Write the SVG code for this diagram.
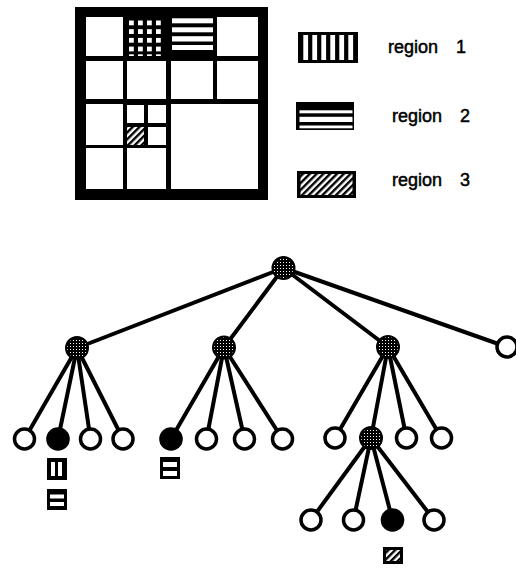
<svg xmlns="http://www.w3.org/2000/svg" width="516" height="571" viewBox="0 0 516 571">
  <defs>
    <!-- halftone fill for internal tree nodes -->
    <pattern id="stipple" patternUnits="userSpaceOnUse" width="3" height="3">
      <rect width="3" height="3" fill="#000"/>
      <rect x="1" y="1" width="1" height="1" fill="#fff"/>
    </pattern>
    <!-- diagonal hatch for region 3 -->
    <pattern id="hatch" patternUnits="userSpaceOnUse" width="4.8" height="4.8" patternTransform="rotate(45)">
      <rect width="4.8" height="4.8" fill="#fff"/>
      <rect width="2.4" height="4.8" fill="#000"/>
    </pattern>
  </defs>
  <style>
    .cell{fill:#fff}
    .edge{stroke:#000;stroke-width:4;stroke-linecap:round;fill:none}
    .open{fill:#fff;stroke:#000;stroke-width:3.5}
    .full{fill:#000}
    .shade{fill:url(#stipple);stroke:#000;stroke-width:2}
    .lbl{font-family:"Liberation Sans",Arial,sans-serif;font-size:18px;word-spacing:13px;fill:#000;stroke:#000;stroke-width:0.5}
  </style>

  <!-- quadtree image partition -->
  <g id="grid">
    <rect x="75" y="7" width="193" height="193" fill="#000"/>
    <!-- row 1 -->
    <rect class="cell" x="86" y="17" width="37" height="39"/>
    <g id="cell-region1" fill="#fff">
      <rect x="129" y="20.5" width="4.8" height="4.8"/><rect x="138" y="20.5" width="4.8" height="4.8"/><rect x="147" y="20.5" width="4.8" height="4.8"/><rect x="156" y="20.5" width="4.8" height="4.8"/>
      <rect x="129" y="29.2" width="4.8" height="4.8"/><rect x="138" y="29.2" width="4.8" height="4.8"/><rect x="147" y="29.2" width="4.8" height="4.8"/><rect x="156" y="29.2" width="4.8" height="4.8"/>
      <rect x="129" y="37.9" width="4.8" height="4.8"/><rect x="138" y="37.9" width="4.8" height="4.8"/><rect x="147" y="37.9" width="4.8" height="4.8"/><rect x="156" y="37.9" width="4.8" height="4.8"/>
      <rect x="129" y="46.6" width="4.8" height="4.8"/><rect x="138" y="46.6" width="4.8" height="4.8"/><rect x="147" y="46.6" width="4.8" height="4.8"/><rect x="156" y="46.6" width="4.8" height="4.8"/>
      <rect x="129" y="54.3" width="4.8" height="1.7"/><rect x="138" y="54.3" width="4.8" height="1.7"/><rect x="147" y="54.3" width="4.8" height="1.7"/><rect x="156" y="54.3" width="4.8" height="1.7"/>
    </g>
    <g id="cell-region2" fill="#fff">
      <rect x="172" y="18.3" width="41" height="5"/>
      <rect x="172" y="27.3" width="41" height="5"/>
      <rect x="172" y="36.2" width="41" height="5.3"/>
      <rect x="172" y="45" width="41" height="5"/>
    </g>
    <rect class="cell" x="217" y="17" width="41" height="39"/>
    <!-- row 2 -->
    <rect class="cell" x="86" y="61" width="37" height="38"/>
    <rect class="cell" x="127" y="61" width="39" height="38"/>
    <rect class="cell" x="171" y="61" width="42" height="38"/>
    <rect class="cell" x="217" y="61" width="41" height="38"/>
    <!-- rows 3 and 4 -->
    <rect class="cell" x="86" y="104" width="37" height="41"/>
    <rect class="cell" x="127" y="105" width="17" height="18"/>
    <rect class="cell" x="148" y="105" width="18" height="18"/>
    <rect x="127" y="127" width="17" height="18" fill="url(#hatch)"/>
    <rect class="cell" x="148" y="127" width="18" height="18"/>
    <rect class="cell" x="171" y="104" width="87" height="85"/>
    <rect class="cell" x="86" y="148" width="37" height="41"/>
    <rect class="cell" x="127" y="148" width="39" height="41"/>
  </g>

  <!-- legend -->
  <g id="legend-1">
    <rect x="298" y="32" width="60" height="31" fill="#000"/>
    <g fill="#fff">
      <rect x="303.3" y="35" width="4.8" height="25"/>
      <rect x="312.3" y="35" width="4.8" height="25"/>
      <rect x="321.3" y="35" width="4.8" height="25"/>
      <rect x="330.3" y="35" width="4.8" height="25"/>
      <rect x="339.3" y="35" width="4.8" height="25"/>
      <rect x="348.3" y="35" width="4.8" height="25"/>
    </g>
    <text class="lbl" x="388" y="53.3">region 1</text>
  </g>
  <g id="legend-2">
    <rect x="296" y="102" width="58" height="28" fill="#000"/>
    <g fill="#fff">
      <rect x="299.5" y="110.3" width="53" height="3"/>
      <rect x="299.5" y="116.8" width="53" height="5.2"/>
      <rect x="299.5" y="125.5" width="53" height="2.8"/>
    </g>
    <text class="lbl" x="392" y="121.5">region 2</text>
  </g>
  <g id="legend-3">
    <rect x="297" y="171" width="59" height="27" fill="#000"/>
    <rect x="300.5" y="174" width="52" height="21" fill="url(#hatch)"/>
    <text class="lbl" x="392" y="186">region 3</text>
  </g>

  <!-- tree connectors -->
  <g id="edges" class="edge">
    <line x1="283.5" y1="268" x2="77" y2="348"/>
    <line x1="283.5" y1="268" x2="224" y2="347.5"/>
    <line x1="283.5" y1="268" x2="388" y2="347"/>
    <line x1="283.5" y1="268" x2="507" y2="347"/>
    <line x1="77" y1="348" x2="24.5" y2="439"/>
    <line x1="77" y1="348" x2="58" y2="439"/>
    <line x1="77" y1="348" x2="90.5" y2="439"/>
    <line x1="77" y1="348" x2="123" y2="439"/>
    <line x1="224" y1="347.5" x2="171" y2="439"/>
    <line x1="224" y1="347.5" x2="206.5" y2="439"/>
    <line x1="224" y1="347.5" x2="244.5" y2="439"/>
    <line x1="224" y1="347.5" x2="282.5" y2="439"/>
    <line x1="388" y1="347" x2="335" y2="438"/>
    <line x1="388" y1="347" x2="371" y2="438"/>
    <line x1="388" y1="347" x2="406.5" y2="438"/>
    <line x1="388" y1="347" x2="441.5" y2="438"/>
    <line x1="371" y1="438" x2="311" y2="520"/>
    <line x1="371" y1="438" x2="353.5" y2="520"/>
    <line x1="371" y1="438" x2="392.5" y2="520"/>
    <line x1="371" y1="438" x2="434" y2="520"/>
  </g>

  <!-- tree nodes -->
  <g id="n-root"><circle class="shade" cx="283.5" cy="268" r="11"/></g>
  <g id="n-a"><circle class="shade" cx="77" cy="348" r="11"/></g>
  <g id="n-b"><circle class="shade" cx="224" cy="347.5" r="11"/></g>
  <g id="n-c"><circle class="shade" cx="388" cy="347" r="11"/></g>
  <g id="n-d"><circle class="open" cx="507" cy="347" r="10"/></g>

  <g id="n-a1"><circle class="open" cx="24.5" cy="439" r="10"/></g>
  <g id="n-a2">
    <circle class="full" cx="58" cy="439" r="11.8"/>
    <rect x="47" y="458" width="20" height="22" fill="#000"/>
    <rect x="51" y="462" width="4" height="14" fill="#fff"/>
    <rect x="58" y="462" width="4" height="14" fill="#fff"/>
    <rect x="47" y="489" width="20" height="21" fill="#000"/>
    <rect x="50" y="494.5" width="14" height="4" fill="#fff"/>
    <rect x="50" y="502" width="14" height="4" fill="#fff"/>
  </g>
  <g id="n-a3"><circle class="open" cx="90.5" cy="439" r="10"/></g>
  <g id="n-a4"><circle class="open" cx="123" cy="439" r="10"/></g>

  <g id="n-b1">
    <circle class="full" cx="171" cy="439" r="11.8"/>
    <rect x="160" y="457" width="20" height="22" fill="#000"/>
    <rect x="163" y="462" width="14" height="5" fill="#fff"/>
    <rect x="163" y="471" width="14" height="5" fill="#fff"/>
  </g>
  <g id="n-b2"><circle class="open" cx="206.5" cy="439" r="10"/></g>
  <g id="n-b3"><circle class="open" cx="244.5" cy="439" r="10"/></g>
  <g id="n-b4"><circle class="open" cx="282.5" cy="439" r="10"/></g>

  <g id="n-c1"><circle class="open" cx="335" cy="438" r="10"/></g>
  <g id="n-c2"><circle class="shade" cx="371" cy="438" r="11"/></g>
  <g id="n-c3"><circle class="open" cx="406.5" cy="438" r="10"/></g>
  <g id="n-c4"><circle class="open" cx="441.5" cy="438" r="10"/></g>

  <g id="n-e1"><circle class="open" cx="311" cy="520" r="10"/></g>
  <g id="n-e2"><circle class="open" cx="353.5" cy="520" r="10"/></g>
  <g id="n-e3">
    <circle class="full" cx="392.5" cy="520" r="11.8"/>
    <rect x="383" y="547" width="20" height="17" fill="#000"/>
    <rect x="386" y="550" width="14" height="11" fill="url(#hatch)"/>
  </g>
  <g id="n-e4"><circle class="open" cx="434" cy="520" r="10"/></g>
</svg>
